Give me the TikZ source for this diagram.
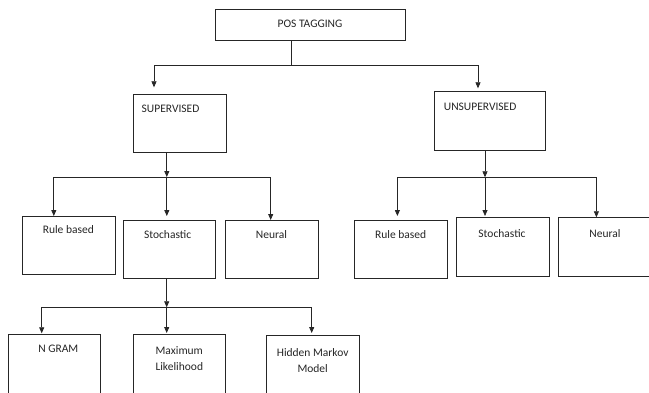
\documentclass[tikz,border=0pt]{standalone}
\usepackage{fontspec}
\setmainfont{Carlito}
\usetikzlibrary{arrows.meta}
\begin{document}
\begin{tikzpicture}[x=1pt,y=-1pt,
  box/.style={draw=black!85, line width=0.8pt, anchor=north west, inner sep=0pt, outer sep=0pt},
  lbl/.style={font=\fontsize{11.5}{14}\selectfont, text=black!85, inner sep=0pt, align=center},
  con/.style={draw=black!85, line width=0.75pt},
  arr/.style={con, -{Triangle[length=6pt,width=5pt]}}]
\clip (0,0) rectangle (649,392);
\fill[white] (0,0) rectangle (649,392);
% boxes
\node[box, minimum width=190pt, minimum height=31.4pt] (pos) at (215,9.3) {};
\node[box, minimum width=93pt, minimum height=58pt] (sup) at (133,94.3) {};
\node[box, minimum width=110.4pt, minimum height=58.6pt] (uns) at (434.6,91.7) {};
\node[box, minimum width=92.7pt, minimum height=58.7pt] (rb1) at (22.8,216) {};
\node[box, minimum width=92pt, minimum height=58pt] (st1) at (123,220) {};
\node[box, minimum width=93.3pt, minimum height=58pt] (ne1) at (225,220) {};
\node[box, minimum width=93pt, minimum height=57.7pt] (rb2) at (354,220.3) {};
\node[box, minimum width=93.3pt, minimum height=59pt] (st2) at (456,217.7) {};
\node[box, minimum width=100pt, minimum height=59pt] (ne2) at (558.8,217.7) {};
\node[box, minimum width=91.7pt, minimum height=70pt] (ng) at (8.3,334.3) {};
\node[box, minimum width=92.4pt, minimum height=70pt] (ml) at (133.3,334.3) {};
\node[box, minimum width=92.6pt, minimum height=70pt] (hm) at (266.7,335.7) {};
% labels
\node[lbl] (tpos) at (310,24) {POS TAGGING};
\node[lbl, anchor=west] (tsup) at (141.5,109.3) {SUPERVISED};
\node[lbl, anchor=west] (tuns) at (443.7,107) {UNSUPERVISED};
\node[lbl] (trb1) at (68.3,230) {Rule based};
\node[lbl] (tst1) at (167.6,234.7) {Stochastic};
\node[lbl] (tne1) at (271.5,234.7) {Neural};
\node[lbl] (trb2) at (400.7,234.7) {Rule based};
\node[lbl] (tst2) at (502,233.3) {Stochastic};
\node[lbl] (tne2) at (605,233.3) {Neural};
\node[lbl] (tng) at (58.3,349) {N GRAM};
\node[lbl] (tml) at (179.3,359) {Maximum\\[2pt]Likelihood};
\node[lbl] (thm) at (312.7,361) {Hidden Markov\\[2pt]Model};
% junctions and arrow ends
\coordinate (jt) at (291,65);
\coordinate (asup) at (154,87.3);
\coordinate (auns) at (478,88.3);
\coordinate (js) at (166.8,177);
\coordinate (arb1) at (53.8,216);
\coordinate (ast1) at (166.8,216);
\coordinate (ane1) at (270.7,220);
\coordinate (ju) at (485,177.3);
\coordinate (arb2) at (397.4,216);
\coordinate (ast2) at (485,216);
\coordinate (ane2) at (596.4,217.3);
\coordinate (jb) at (166.7,307.3);
\coordinate (ang) at (41.7,333.3);
\coordinate (aml) at (166.7,333);
\coordinate (ahm) at (311.7,333);
% connectors
\draw[con] (pos.south -| jt) -- (jt);
\draw[arr] (jt) -| (asup);
\draw[arr] (jt) -| (auns);
\draw[arr] (sup.south -| js) -- (js);
\draw[arr] (js) -| (arb1);
\draw[arr] (js) -- (ast1);
\draw[arr] (js) -| (ane1);
\draw[arr] (uns.south -| ju) -- (ju);
\draw[arr] (ju) -| (arb2);
\draw[arr] (ju) -- (ast2);
\draw[arr] (ju) -| (ane2);
\draw[arr] (st1.south -| jb) -- (jb);
\draw[arr] (jb) -| (ang);
\draw[arr] (jb) -- (aml);
\draw[arr] (jb) -| (ahm);
\end{tikzpicture}
\end{document}
